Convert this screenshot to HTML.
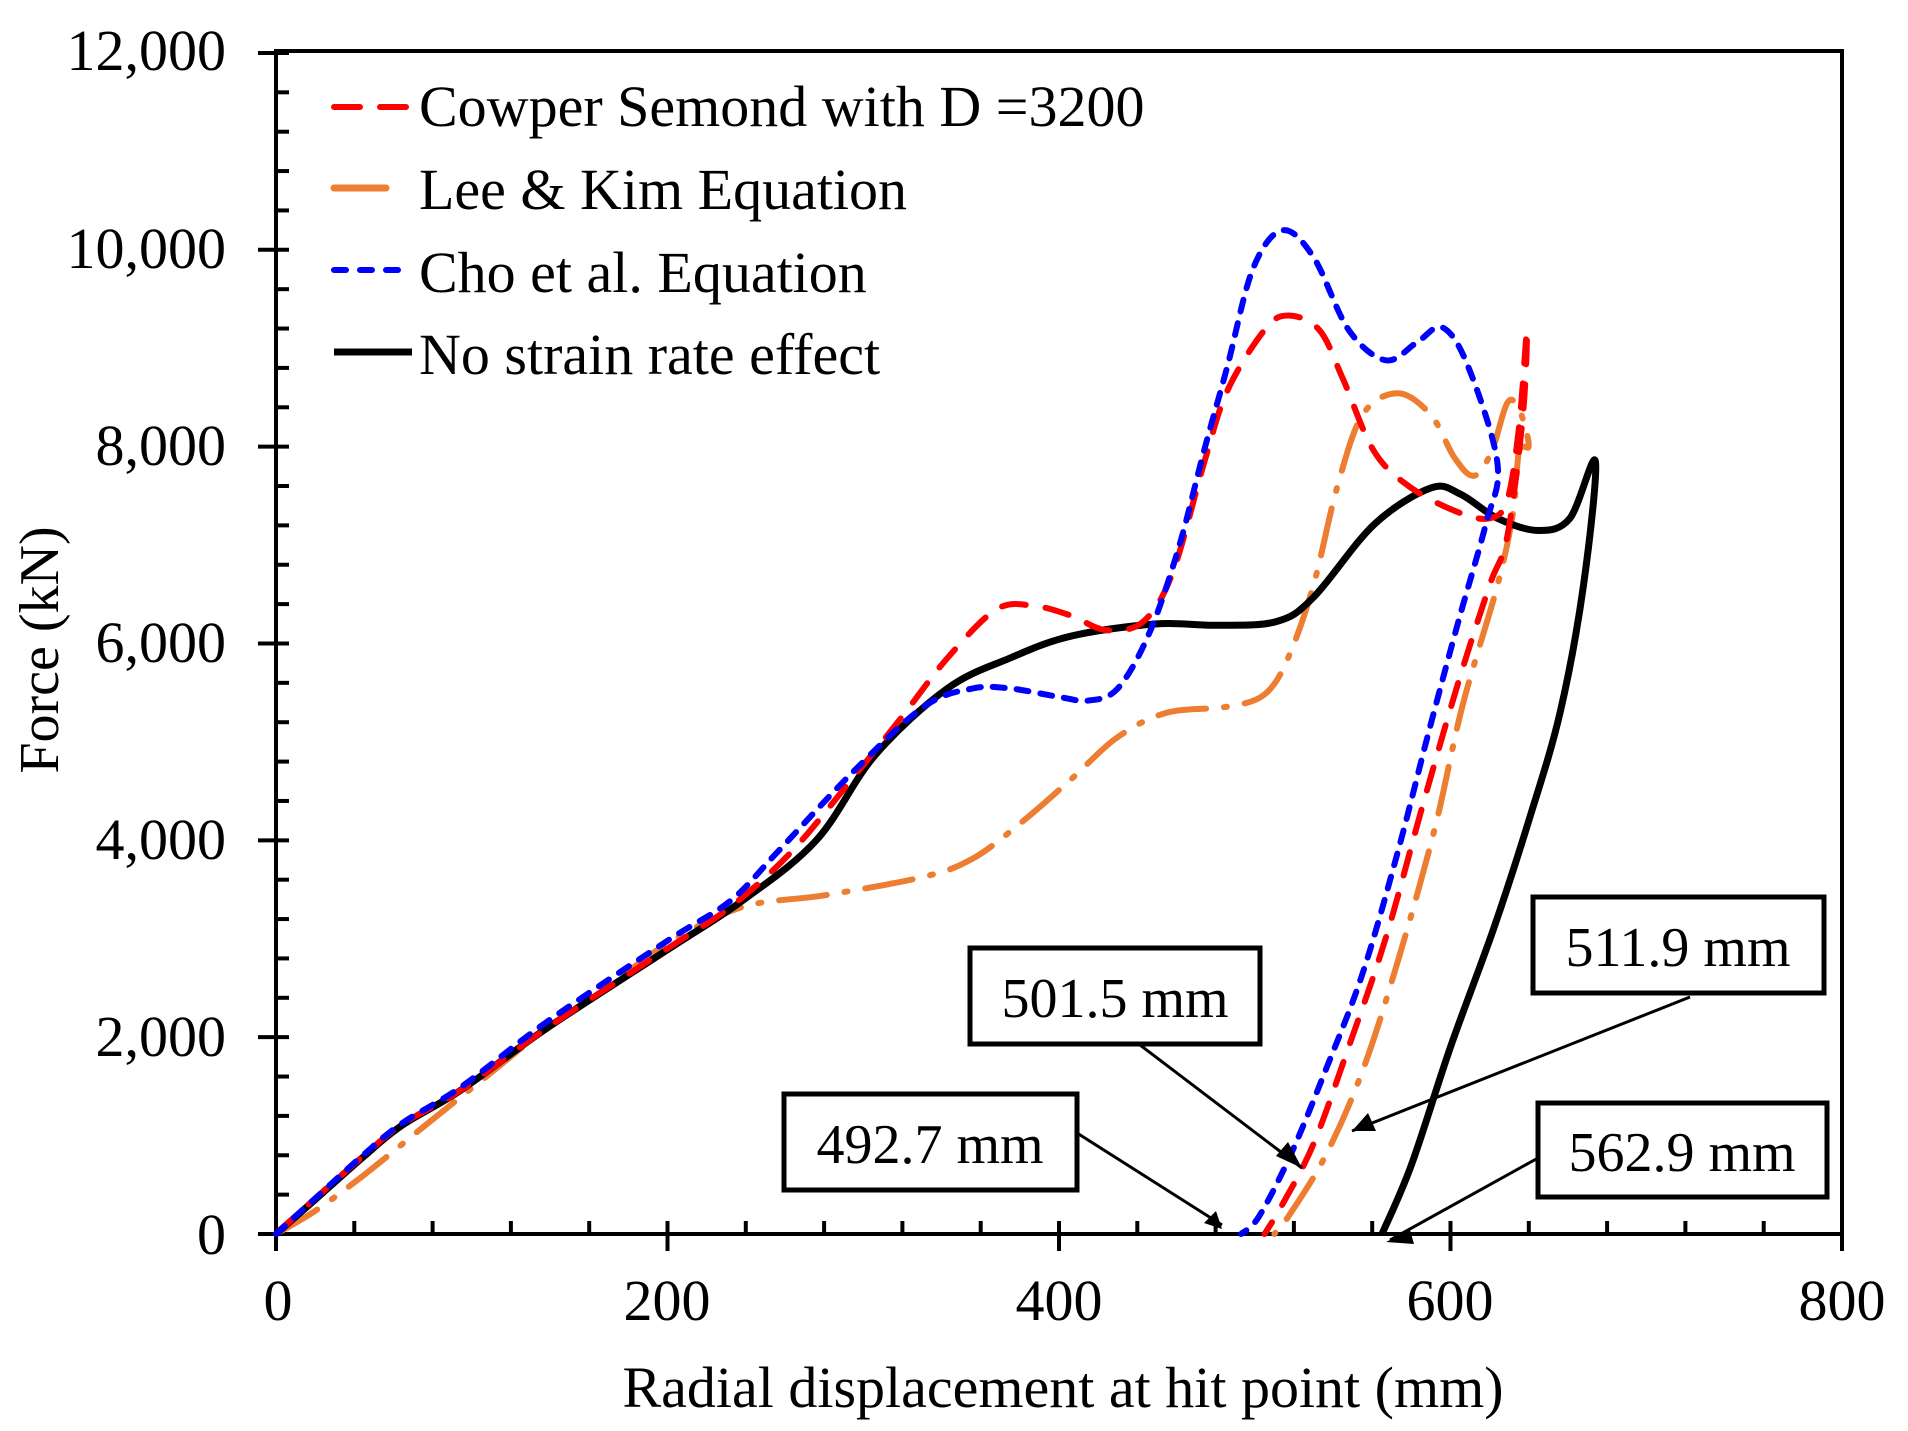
<!DOCTYPE html>
<html><head><meta charset="utf-8"><style>
html,body{margin:0;padding:0;background:#fff;}
svg{display:block;font-family:"Liberation Serif",serif;}
</style></head><body>
<svg id="s" width="1908" height="1431" viewBox="0 0 1908 1431" xmlns="http://www.w3.org/2000/svg">
<rect width="1908" height="1431" fill="#fff"/>
<g id="axes"></g>
<g id="series"></g>
<g font-size="58" fill="#000">
<text x="226" y="70" text-anchor="end">12,000</text>
<text x="226" y="268" text-anchor="end">10,000</text>
<text x="226" y="465" text-anchor="end">8,000</text>
<text x="226" y="662" text-anchor="end">6,000</text>
<text x="226" y="859" text-anchor="end">4,000</text>
<text x="226" y="1056" text-anchor="end">2,000</text>
<text x="226" y="1254" text-anchor="end">0</text>
<text x="278" y="1320" text-anchor="middle">0</text>
<text x="667" y="1320" text-anchor="middle">200</text>
<text x="1059" y="1320" text-anchor="middle">400</text>
<text x="1450" y="1320" text-anchor="middle">600</text>
<text x="1842" y="1320" text-anchor="middle">800</text>
<text x="1063" y="1407" text-anchor="middle" font-size="58">Radial displacement at hit point (mm)</text>
<text transform="translate(58,650) rotate(-90)" text-anchor="middle" font-size="56">Force (kN)</text>
</g>
<g font-size="58">
<line x1="334" y1="107" x2="406" y2="107" stroke="#f00" stroke-width="6" stroke-dasharray="26,20" stroke-linecap="round"/>
<text x="419" y="126">Cowper Semond with D =3200</text>
<line x1="334" y1="188" x2="386" y2="188" stroke="#ed7d31" stroke-width="7" stroke-linecap="round"/>
<text x="419" y="209">Lee &amp; Kim Equation</text>
<line x1="334" y1="270" x2="406" y2="270" stroke="#00f" stroke-width="6" stroke-dasharray="12,14" stroke-linecap="round"/>
<text x="419" y="292">Cho et al. Equation</text>
<line x1="334" y1="352" x2="412" y2="352" stroke="#000" stroke-width="7"/>
<text x="419" y="374">No strain rate effect</text>
</g>
<g stroke="#000" stroke-width="5" fill="#fff">
<rect x="970" y="948" width="290" height="96"/>
<rect x="1533" y="897" width="291" height="96"/>
<rect x="784" y="1094" width="293" height="96"/>
<rect x="1538" y="1103" width="289" height="94"/>
</g>
<g font-size="56" fill="#000" text-anchor="middle">
<text x="1115" y="1017">501.5 mm</text>
<text x="1678" y="966">511.9 mm</text>
<text x="930" y="1163">492.7 mm</text>
<text x="1682" y="1171">562.9 mm</text>
</g>
<g stroke="#000" stroke-width="3">
<line x1="1140" y1="1045" x2="1302" y2="1168"/>
<line x1="1690" y1="997" x2="1352" y2="1131"/>
<line x1="1077" y1="1133" x2="1222" y2="1225"/>
<line x1="1538" y1="1158" x2="1390" y2="1240"/>
</g>
<g fill="#000">
<path d="M1302,1168 l-26,-12 l12,-14z"/>
<path d="M1352,1131 l16,-18 l8,18z"/>
<path d="M1226,1229 l-6,-18 l-12,12z" transform="translate(-4,0)"/>
<path d="M1386,1242 l24,-12 l4,14z"/>
</g>
</svg>
<script>
var X=function(d){return 276+1.9575*d},Y=function(f){return 1234-0.09842*f};
var ax=document.getElementById('axes'),h='';
h+='<rect x="276" y="51" width="1566" height="1183" fill="none" stroke="#000" stroke-width="4"/>';
for(var f=0;f<=12000;f+=400){var y=Y(f);var maj=f%2000==0;h+='<line x1="'+(maj?258:276)+'" y1="'+y+'" x2="289" y2="'+y+'" stroke="#000" stroke-width="4"/>';}
for(var d=0;d<=800;d+=40){var x=X(d);var maj=d%200==0;h+='<line x1="'+x+'" y1="1221" x2="'+x+'" y2="'+(maj?1251:1234)+'" stroke="#000" stroke-width="4"/>';}
ax.innerHTML=h;
function path(p){var pts=p.map(function(a){return [X(a[0]),Y(a[1])]});var s='M'+pts[0][0]+','+pts[0][1];
for(var i=0;i<pts.length-1;i++){var p0=pts[i-1]||pts[i],p1=pts[i],p2=pts[i+1],p3=pts[i+2]||p2;
s+=' C'+(p1[0]+(p2[0]-p0[0])/6)+','+(p1[1]+(p2[1]-p0[1])/6)+' '+(p2[0]-(p3[0]-p1[0])/6)+','+(p2[1]-(p3[1]-p1[1])/6)+' '+p2[0]+','+p2[1];}return s;}
var orange=[[0,0],[20,235],[45,600],[76,1100],[107,1593],[138,2086],[170,2519],[200,2951],[238,3321],[281,3444],[331,3630],[356,3815],[381,4185],[406,4617],[430,5049],[455,5296],[486,5358],[505,5482],[517,5852],[530,6593],[542,7580],[555,8321],[573,8543],[590,8321],[602,7889],[612,7704],[621,7951],[629,8444],[635,8383],[640,8013],[635,7951],[632,7333],[624,6593],[606,5358],[592,4123],[573,2765],[555,1654],[536,790],[517,173],[510,0]];
var black=[[0,0],[20.5,358],[45,790],[64,1099],[95,1469],[138,2086],[200,2889],[238,3383],[276,4000],[306,4864],[343,5543],[375,5852],[406,6074],[449,6198],[480,6185],[511,6222],[530,6469],[561,7210],[590,7580],[605,7518],[624,7272],[645,7148],[661,7272],[674,7852],[668,6600],[656,5300],[640,4200],[622,3100],[600,1900],[580,700],[565,0]];
var red=[[0,0],[20.5,370],[45,800],[64,1110],[95,1469],[138,2086],[200,2900],[232,3321],[263,3877],[294,4617],[319,5235],[343,5852],[368,6346],[387,6383],[406,6284],[424,6136],[443,6222],[458,6716],[474,7827],[486,8568],[505,9185],[517,9333],[533,9185],[545,8691],[561,7951],[580,7580],[604,7333],[620,7272],[629,7457],[635,8198],[639,9185],[637,8321],[629,7087],[620,6593],[604,5605],[586,4370],[567,3012],[548,1901],[530,914],[514,296],[505,0]];
var blue=[[0,0],[20.5,370],[45,810],[64,1120],[95,1500],[138,2150],[200,2980],[232,3383],[256,3877],[294,4679],[331,5358],[356,5543],[375,5543],[400,5457],[415,5420],[430,5543],[446,6099],[461,6963],[474,7951],[486,8815],[499,9803],[514,10198],[530,9926],[548,9185],[567,8877],[583,9062],[596,9210],[609,8815],[624,7827],[618,7210],[604,6222],[589,5111],[573,3877],[555,2642],[536,1654],[518,790],[502,173],[493,0]];
var sr=document.getElementById('series');
sr.innerHTML='<path d="'+path(orange)+'" fill="none" stroke="#ed7d31" stroke-width="6" stroke-dasharray="48,18,3,18" stroke-linecap="round"/>'+
'<path d="'+path(black)+'" fill="none" stroke="#000" stroke-width="7" stroke-linejoin="round"/>'+
'<path d="'+path(red)+'" fill="none" stroke="#f00" stroke-width="6" stroke-dasharray="24,20" stroke-linecap="round"/>'+
'<path d="'+path(blue)+'" fill="none" stroke="#00f" stroke-width="6" stroke-dasharray="12,12" stroke-linecap="round"/>';
</script>
</body></html>
